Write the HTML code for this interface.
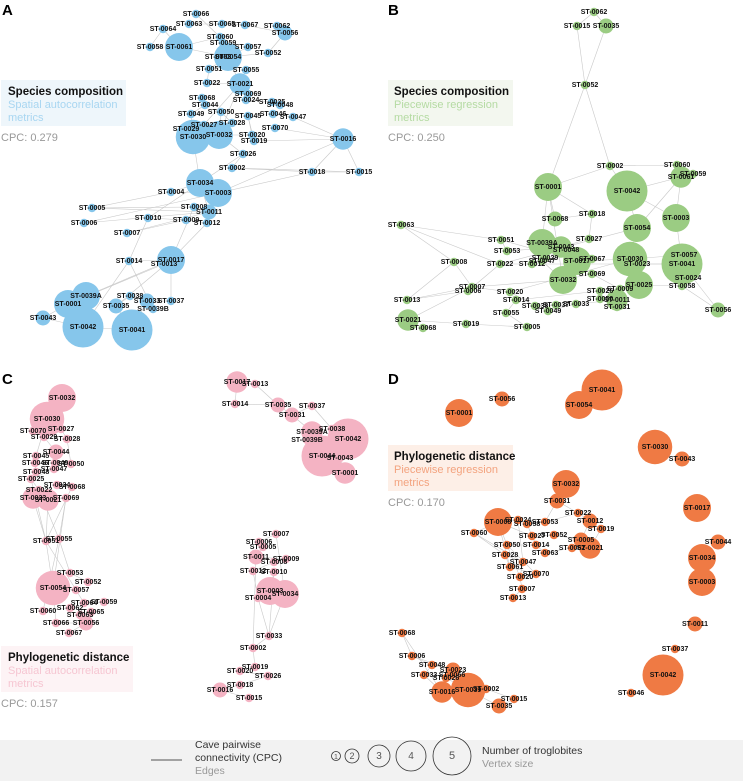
<!DOCTYPE html>
<html><head><meta charset="utf-8">
<style>
body{margin:0;background:#fff;font-family:"Liberation Sans",Arial,sans-serif;}
svg{display:block}
.lbl{font-size:7px;font-weight:bold;fill:#111;text-anchor:middle;dominant-baseline:middle}
</style></head>
<body>
<svg id="chart" width="743" height="781" viewBox="0 0 743 781" xmlns="http://www.w3.org/2000/svg">
<g id="edges"></g><g id="nodes"></g><g id="deco"></g>
</svg>
<script>
// Node ids, layout x, layout y, number of troglobites (vertex size)
const nodesA = [["0066",196,14,1],["0063",189,24,1],["0065",222,24,1],["0067",245,25,1],["0064",163,29,1],["0062",277,26,1],["0056",285,33,2],["0058",150,47,1],["0061",179,47,4],["0060",220,37,1],["0059",223,43,1],["0057",248,47,1],["0053",218,57,1],["0054",228,57,4],["0052",268,53,1],["0051",209,69,1],["0055",246,70,1],["0022",207,83,1],["0021",240,84,3],["0069",248,94,1],["0068",202,98,1],["0044",205,105,1],["0024",246,100,1],["0025",272,102,1],["0048",280,105,1],["0049",191,114,1],["0050",221,112,1],["0045",248,116,1],["0046",273,114,1],["0047",293,117,1],["0029",186,129,1],["0027",204,125,1],["0028",232,123,1],["0070",275,128,1],["0030",193,137,5],["0032",219,135,4],["0020",252,135,1],["0019",254,141,1],["0016",343,139,3],["0026",243,154,1],["0002",232,168,1],["0018",312,172,1],["0015",359,172,1],["0034",200,183,4],["0003",218,193,4],["0004",171,192,1],["0005",92,208,1],["0006",84,223,1],["0008",194,207,1],["0011",209,212,2],["0010",148,218,1],["0009",186,220,1],["0012",207,223,1],["0007",127,233,1],["0014",129,261,1],["0017",171,260,4],["0013",164,264,1],["0039A",86,296,4],["0001",68,304,4],["0038",130,296,1],["0033",147,301,2],["0037",171,301,1],["0035",116,306,2],["0039B",153,309,1],["0043",43,318,2],["0042",83,327,6],["0041",132,330,6]];
const nodesB = [["0062",594,12,1],["0015",577,26,1],["0035",606,26,2],["0052",585,85,1],["0002",610,166,1],["0060",677,165,1],["0061",681,177,3],["0059",693,174,1],["0001",548,187,4],["0042",627,191,6],["0063",401,225,1],["0068",555,219,2],["0018",592,214,1],["0054",637,228,4],["0003",676,218,4],["0051",501,240,1],["0027",589,239,1],["0039A",542,243,4],["0043",561,247,3],["0048",566,250,1],["0053",507,251,1],["0030",630,259,5],["0057",684,255,1],["0041",682,264,6],["0008",454,262,1],["0029",545,258,1],["0047",542,261,1],["0017",577,261,4],["0067",592,259,1],["0023",637,264,1],["0012",532,264,1],["0022",500,264,1],["0024",688,278,1],["0058",682,286,1],["0069",592,274,1],["0032",563,280,4],["0025",639,285,4],["0007",472,287,1],["0006",468,291,1],["0020",510,292,1],["0009",620,289,1],["0026",600,291,1],["0050",600,299,1],["0011",617,300,3],["0031",617,307,1],["0013",407,300,1],["0014",516,300,1],["0033",576,304,1],["0037",556,305,1],["0038",535,306,1],["0049",548,311,1],["0055",506,313,1],["0056",718,310,2],["0021",408,320,3],["0068~2",423,328,1],["0019",466,324,1],["0005",527,327,1]];
const nodesC = [["0032",62,398,4],["0030",47,419,5],["0070",33,431,1],["0027",61,429,1],["0029",44,437,1],["0028",67,439,1],["0044~L",56,452,2],["0045",36,456,1],["0046",35,463,1],["0049",55,463,1],["0050",71,464,1],["0047",54,469,1],["0048",36,472,1],["0025",31,479,1],["0024",57,485,1],["0068",72,487,1],["0022",39,490,1],["0023",33,498,3],["0021",48,500,3],["0069",66,498,1],["0051",46,541,1],["0055",59,539,1],["0053",70,573,1],["0054",53,588,5],["0052",88,582,1],["0057",76,590,1],["0064",84,603,1],["0059",104,602,1],["0062",70,608,1],["0060",43,611,1],["0063",80,615,1],["0065",91,612,1],["0066",56,623,1],["0056",86,623,2],["0067",69,633,1],["0017",237,382,3],["0013",255,384,1],["0014",235,404,1],["0035",278,405,2],["0037",312,406,1],["0031",292,415,2],["0039A",312,432,3],["0038",332,429,1],["0039B",307,440,1],["0042",348,439,6],["0044",322,456,6],["0043",340,458,1],["0001",345,473,3],["0007",276,534,1],["0006",259,542,1],["0005",263,547,1],["0011",256,557,2],["0009",286,559,1],["0008",274,562,1],["0012",253,571,1],["0010",274,572,1],["0003",270,591,4],["0034",285,594,4],["0004",258,598,1],["0033",269,636,1],["0002",253,648,1],["0019",255,667,1],["0020",240,671,1],["0026",268,676,1],["0018",240,685,1],["0016",220,690,2],["0015",249,698,1]];
const nodesD = [["0041",602,390,6],["0054",579,405,4],["0056",502,399,2],["0001",459,413,4],["0030",655,447,5],["0043",682,459,2],["0032",566,484,4],["0031",557,501,2],["0017",697,508,4],["0044",718,542,2],["0034",702,558,4],["0003",702,582,4],["0011",695,624,2],["0037",675,649,1],["0042",663,675,6],["0046",631,693,1],["0068",402,633,1],["0006",412,656,1],["0048",432,665,1],["0023",453,670,2],["0033",424,675,1],["0066",452,675,1],["0026",446,678,1],["0016",442,692,3],["0039",468,690,5],["0002",486,689,1],["0015",514,699,1],["0035",499,706,2],["0008",498,522,4],["0060",474,533,1],["0024",518,520,1],["0058",527,524,1],["0053",545,522,1],["0022",578,513,1],["0012",590,521,2],["0019",601,529,1],["0027",532,536,1],["0052",554,535,1],["0005",581,540,2],["0021",590,548,3],["0062",572,548,1],["0050",507,545,1],["0014",536,545,1],["0063",545,553,1],["0028",505,555,1],["0047",523,562,1],["0061",510,567,1],["0070",536,574,1],["0020",520,577,1],["0007",522,589,1],["0013",513,598,1]];
// Edge pairs (cave pairwise connectivity)
const edgesA = "0061-0054 0061-0058 0061-0064 0063-0065 0065-0067 0067-0056 0062-0056 0054-0057 0054-0052 0054-0051 0051-0022 0022-0021 0021-0055 0021-0069 0068-0044 0044-0049 0050-0028 0024-0025 0025-0048 0046-0047 0045-0020 0029-0030 0030-0032 0027-0028 0032-0020 0020-0019 0019-0016 0070-0016 0016-0018 0016-0015 0018-0015 0026-0002 0002-0018 0002-0015 0030-0034 0034-0003 0003-0018 0034-0004 0004-0005 0005-0008 0006-0011 0010-0009 0009-0012 0007-0011 0008-0017 0017-0014 0014-0010 0017-0039A 0017-0013 0013-0001 0039A-0001 0001-0042 0042-0041 0041-0035 0035-0038 0038-0033 0033-0037 0037-0017 0039B-0014 0043-0042 0043-0001 0003-0016 0032-0026 0021-0030 0049-0030 0056-0052 0064-0058 0066-0060 0034-0011 0012-0017 0026-0034 0005-0011 0006-0003 0061-0060 0054-0021 0021-0032 0050-0032 0047-0016 0045-0019 0004-0003 0010-0034 0007-0009 0014-0042 0035-0017 0041-0033".split(" ");
const edgesB = "0062-0015 0062-0035 0015-0052 0035-0052 0052-0001 0052-0002 0002-0042 0002-0060 0060-0059 0061-0003 0003-0041 0001-0039A 0001-0032 0063-0022 0063-0051 0051-0053 0008-0007 0008-0013 0013-0007 0021-0007 0021-0019 0019-0005 0068~2-0021 0007-0020 0020-0038 0038-0049 0049-0033 0033-0011 0011-0031 0025-0058 0058-0056 0041-0056 0041-0024 0030-0025 0042-0054 0054-0030 0030-0017 0017-0039A 0039A-0043 0043-0027 0027-0018 0018-0068 0068-0001 0022-0012 0012-0029 0029-0047 0047-0032 0032-0069 0069-0009 0009-0025 0055-0014 0014-0020 0005-0055 0006-0022 0063-0008 0042-0003 0061-0042 0001-0018 0057-0030 0023-0041 0026-0050 0037-0038 0048-0067 0002-0001 0054-0061 0006-0013 0007-0032 0020-0030 0014-0026 0051-0017 0053-0043 0022-0054 0012-0041".split(" ");
const edgesC = "0032-0030 0030-0027 0027-0028 0070-0029 0029-0044~L 0044~L-0049 0049-0050 0045-0046 0046-0048 0047-0025 0025-0022 0022-0023 0023-0021 0021-0069 0024-0068 0023-0051 0021-0051 0069-0055 0022-0055 0051-0054 0055-0053 0051-0057 0055-0060 0053-0052 0054-0057 0057-0064 0064-0059 0062-0060 0063-0065 0066-0056 0056-0067 0054-0066 0030-0045 0028-0050 0017-0013 0017-0014 0014-0035 0035-0031 0031-0037 0037-0038 0031-0039A 0039A-0039B 0039A-0044 0044-0042 0042-0043 0043-0001 0038-0042 0013-0035 0007-0006 0006-0005 0005-0011 0011-0009 0009-0008 0008-0012 0012-0010 0010-0003 0003-0034 0003-0004 0004-0033 0034-0033 0033-0002 0002-0019 0019-0020 0020-0026 0026-0018 0018-0016 0016-0015 0012-0004 0011-0002 0010-0033 0007-0034 0068-0051 0069-0054 0025-0051".split(" ");
const edgesD = "0008-0060 0008-0024 0024-0058 0058-0053 0053-0022 0022-0012 0012-0019 0027-0052 0052-0005 0005-0021 0021-0062 0050-0014 0014-0063 0028-0047 0047-0061 0061-0070 0070-0020 0020-0007 0007-0013 0031-0053 0031-0022 0008-0050 0060-0028 0050-0070 0027-0014 0012-0005 0062-0063 0047-0020 0028-0061 0008-0027 0058-0014 0024-0047 0019-0021 0068-0006 0006-0048 0048-0023 0023-0066 0066-0026 0033-0016 0016-0039 0039-0002 0002-0015 0015-0035 0035-0039 0068-0016 0026-0039 0033-0048 0006-0023 0008-0061 0050-0020 0060-0047".split(" ");
const counts = [1,2,3,4,5];

const colors = {A:"#86c6eb",B:"#9bcc83",C:"#f4b3c3",D:"#ef7a44"};
const rad = n => 1 + 3.25*n;
const NS = "http://www.w3.org/2000/svg";
const gE = document.getElementById('edges'), gN = document.getElementById('nodes'), gD = document.getElementById('deco');
function mk(tag, attrs, parent){const e=document.createElementNS(NS,tag);for(const k in attrs)e.setAttribute(k,attrs[k]);parent.appendChild(e);return e;}
const disp = id => id.split('~')[0];

function drawPanel(key, nodes, edges){
  const idx = {};
  nodes.forEach(n => idx[n[0]] = n);
  edges.forEach(p => {
    const [a,b] = p.split("-");
    const na = idx[a], nb = idx[b];
    if(!na||!nb) return;
    const l = mk('line',{x1:na[1],y1:na[2],x2:nb[1],y2:nb[2],stroke:"#c9c9c9","stroke-width":0.6},gE);
    
    
  });
  const sorted = nodes.slice().sort((a,b)=>b[3]-a[3]);
  sorted.forEach(n => {
    const g = mk('g',{},gN);
    
    
    mk('circle',{cx:n[1],cy:n[2],r:rad(n[3]),fill:colors[key]},g);
  });
  nodes.forEach(n => {
    const t = mk('text',{x:n[1],y:n[2],class:"lbl"},gN);
    t.textContent = "ST-" + disp(n[0]);
    
    
  });
}
drawPanel('A', nodesA, edgesA);
drawPanel('B', nodesB, edgesB);
drawPanel('C', nodesC, edgesC);
drawPanel('D', nodesD, edgesD);

// legend circles
const legX = [336,352,379,411,452];
counts.forEach((c,i) => {
  const ci = mk('circle',{cx:legX[i],cy:756,r:[4.5,7,11,15,19][i],fill:"none",stroke:"#333","stroke-width":0.8},gD);
  
  
  const t = mk('text',{x:legX[i],y:759,"font-size":[7,9,10,10,11][i],"text-anchor":"middle",fill:"#555"},gD);
  t.textContent = c;
  
  
});
</script>
<svg style="position:absolute;left:0;top:0;pointer-events:none" width="743" height="781">
  <g font-family="Liberation Sans, Arial, sans-serif">
    <text x="2" y="15" font-size="15" font-weight="bold">A</text>
    <text x="388" y="15" font-size="15" font-weight="bold">B</text>
    <text x="2" y="384" font-size="15" font-weight="bold">C</text>
    <text x="388" y="384" font-size="15" font-weight="bold">D</text>

    <g>
      <rect x="1" y="80" width="125" height="46" fill="#eef6fb"/>
      <text x="8" y="95" font-size="11.5" font-weight="bold" fill="#111">Species composition</text>
      <text x="8" y="108" font-size="11" fill="#a8d6f1">Spatial autocorrelation</text>
      <text x="8" y="121" font-size="11" fill="#a8d6f1">metrics</text>
      <text x="1" y="141" font-size="11" fill="#999">CPC: 0.279</text>
    </g>
    <g>
      <rect x="388" y="80" width="125" height="46" fill="#f3f7ef"/>
      <text x="394" y="95" font-size="11.5" font-weight="bold" fill="#111">Species composition</text>
      <text x="394" y="108" font-size="11" fill="#b5dba3">Piecewise regression</text>
      <text x="394" y="121" font-size="11" fill="#b5dba3">metrics</text>
      <text x="388" y="141" font-size="11" fill="#999">CPC: 0.250</text>
    </g>
    <g>
      <rect x="1" y="646" width="132" height="46" fill="#fdf3f5"/>
      <text x="8" y="661" font-size="11.5" font-weight="bold" fill="#111">Phylogenetic distance</text>
      <text x="8" y="674" font-size="11" fill="#f6c6d2">Spatial autocorrelation</text>
      <text x="8" y="687" font-size="11" fill="#f6c6d2">metrics</text>
      <text x="1" y="707" font-size="11" fill="#999">CPC: 0.157</text>
    </g>
    <g>
      <rect x="388" y="445" width="125" height="46" fill="#fdefe7"/>
      <text x="394" y="460" font-size="11.5" font-weight="bold" fill="#111">Phylogenetic distance</text>
      <text x="394" y="473" font-size="11" fill="#f3a37f">Piecewise regression</text>
      <text x="394" y="486" font-size="11" fill="#f3a37f">metrics</text>
      <text x="388" y="506" font-size="11" fill="#999">CPC: 0.170</text>
    </g>
  </g>
</svg>
<div style="position:absolute;left:0;top:740px;width:743px;height:41px;background:#f2f2f2;z-index:-1"></div>
<svg style="position:absolute;left:0;top:0;pointer-events:none" width="743" height="781">
  <g font-family="Liberation Sans, Arial, sans-serif" font-size="10.5">
    <line x1="151" y1="760" x2="182" y2="760" stroke="#888" stroke-width="1.5"/>
    <text x="195" y="748" fill="#333">Cave pairwise</text>
    <text x="195" y="761" fill="#333">connectivity (CPC)</text>
    <text x="195" y="774" fill="#999">Edges</text>
    <text x="482" y="754" fill="#333">Number of troglobites</text>
    <text x="482" y="767" fill="#999">Vertex size</text>
  </g>
</svg>
<style>#chart{position:absolute;left:0;top:0}</style>
</body></html>
